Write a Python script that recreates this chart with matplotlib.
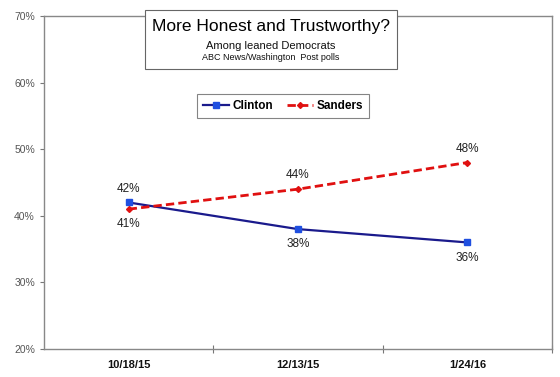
import matplotlib.pyplot as plt
from matplotlib.ticker import FuncFormatter

plt.rcParams['font.family'] = ['Liberation Sans', 'DejaVu Sans']

fechas = ['10/18/15', '12/13/15', '1/24/16']
clinton = [42, 38, 36]
sanders = [41, 44, 48]

fig = plt.figure(figsize=(5.6, 3.77), dpi=100)
ax = fig.add_axes([44 / 560, 28 / 377, 508 / 560, 333 / 377])

x = range(len(fechas))
ax.plot(x, clinton, color='#1a1a8c', linewidth=1.6, marker='s', markersize=4,
        markerfacecolor='#1f4fe0', markeredgecolor='#1f4fe0', label='Clinton', zorder=3)
ax.plot(x, sanders, color='#e01010', linewidth=2, linestyle=(0, (3, 1.5)), marker='D',
        markersize=3, markerfacecolor='#e01010', markeredgecolor='#e01010', label='Sanders', zorder=3)

# etiquetas de datos
for i, v in enumerate(clinton):
    dy = 10 if i == 0 else -11
    ax.annotate(f'{v}%', (i, v), xytext=(0, dy), textcoords='offset points',
                ha='center', va='center', fontsize=8.5, color='#222222')
for i, v in enumerate(sanders):
    dy = -11 if i == 0 else 10
    ax.annotate(f'{v}%', (i, v), xytext=(0, dy), textcoords='offset points',
                ha='center', va='center', fontsize=8.5, color='#222222')

ax.set_xlim(-0.5, 2.5)
ax.set_ylim(20, 70)
ax.set_yticks(range(20, 71, 10))
ax.yaxis.set_major_formatter(FuncFormatter(lambda v, p: f'{v:.0f}%'))
ax.tick_params(axis='y', labelsize=7.5, labelcolor='#555555', color='#777777', length=3)

ax.set_xticks([0.5, 1.5, 2.5])
ax.set_xticklabels([])
ax.set_xticks(list(x), minor=True)
ax.set_xticklabels(fechas, minor=True, fontsize=8, fontweight='bold', color='#111111')
ax.tick_params(axis='x', which='major', direction='inout', length=6, color='#777777')
ax.tick_params(axis='x', which='minor', length=0, pad=8)

for s in ax.spines.values():
    s.set_color('#888888')
    s.set_linewidth(1)

# cuadro de titulo
caja = plt.Rectangle((145 / 560, 1 - 69 / 377), 252 / 560, 59 / 377, transform=fig.transFigure,
                     facecolor='white', edgecolor='#666666', linewidth=0.8, zorder=4)
fig.add_artist(caja)
fig.text(271 / 560, 1 - 26 / 377, 'More Honest and Trustworthy?', ha='center', va='center',
         fontsize=12.5, color='black', zorder=5)
fig.text(271 / 560, 1 - 46 / 377, 'Among leaned Democrats', ha='center', va='center',
         fontsize=8, color='#111111', zorder=5)
fig.text(271 / 560, 1 - 58 / 377, 'ABC News/Washington  Post polls', ha='center', va='center',
         fontsize=6.5, color='#111111', zorder=5)

leg = ax.legend(loc='center', bbox_to_anchor=(283 / 560, 1 - 106 / 377),
                bbox_transform=fig.transFigure, ncol=2, fontsize=8.5, frameon=True,
                fancybox=False, edgecolor='#666666', handlelength=2.2, handletextpad=0.3,
                columnspacing=1.2, borderpad=0.5)
leg.get_frame().set_linewidth(0.8)
for t in leg.get_texts():
    t.set_fontweight('bold')

fig.savefig('out.png', dpi=100)
